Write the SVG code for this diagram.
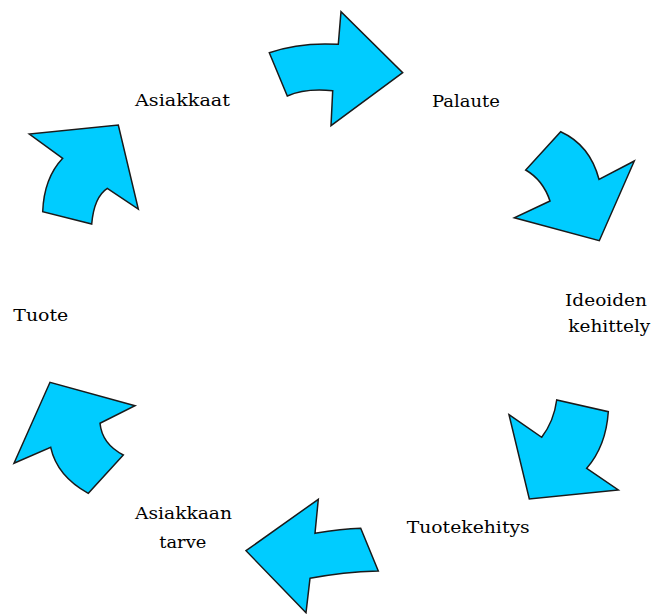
<svg xmlns="http://www.w3.org/2000/svg" width="654" height="614" viewBox="0 0 654 614">
<style>
.arr{fill:#00CCFF;stroke:#1a1a1a;stroke-width:1.5;stroke-linejoin:miter}
.lbl{font-family:"DejaVu Serif","Liberation Serif",serif;font-size:17px;fill:#000}
</style>
<rect width="654" height="614" fill="#fff"/>
<g id="connectors">
<path class="arr" d="M269.3,52.7 Q300,42 338.3,44.3 L341,11.7 L402.7,72.7 L331,125.7 L332.7,90.7 Q305,88 287.3,96 Z"/>
<path class="arr" d="M560.7,131.7 Q590,145 599,179.3 L634.3,161 L599.3,240.7 L514.3,217.7 L550,201 Q543,180 525.7,170 Z"/>
<path class="arr" d="M608.3,411.7 Q606,446 586.7,468.3 L618.3,490 L529.3,499 L509,414.7 L541.7,437.3 Q554,421 556.7,400 Z"/>
<path class="arr" d="M378.3,571 Q343,572 310,578.3 L306,612.7 L246,550.7 L318.3,499.3 L315,533.3 Q342,529 360.7,528.3 Z"/>
<path class="arr" d="M88.3,493.3 Q57,476 50.7,447.3 L14,463.3 L50,382.3 L135,405.7 L100,423.3 Q102,444 123.3,455 Z"/>
<path class="arr" d="M42.7,211.7 Q44,178 62.7,158.3 L29.3,134 L118.3,125 L138.3,209 L107.3,188.3 Q94,197 91.7,224 Z"/>
</g>
<g id="asiakkaat"><text class="lbl" x="135" y="106" textLength="95" lengthAdjust="spacingAndGlyphs">Asiakkaat</text></g>
<g id="palaute"><text class="lbl" x="432" y="106.5" textLength="68" lengthAdjust="spacingAndGlyphs">Palaute</text></g>
<g id="ideoiden-kehittely"><text class="lbl" x="565" y="306" textLength="82" lengthAdjust="spacingAndGlyphs">Ideoiden</text><text class="lbl" x="568.3" y="332" textLength="82" lengthAdjust="spacingAndGlyphs">kehittely</text></g>
<g id="tuotekehitys"><text class="lbl" x="406.7" y="533.3" textLength="123" lengthAdjust="spacingAndGlyphs">Tuotekehitys</text></g>
<g id="asiakkaan-tarve"><text class="lbl" x="135" y="519" textLength="97" lengthAdjust="spacingAndGlyphs">Asiakkaan</text><text class="lbl" x="159.3" y="547.5" textLength="47" lengthAdjust="spacingAndGlyphs">tarve</text></g>
<g id="tuote"><text class="lbl" x="13.3" y="321" textLength="55" lengthAdjust="spacingAndGlyphs">Tuote</text></g>
</svg>
